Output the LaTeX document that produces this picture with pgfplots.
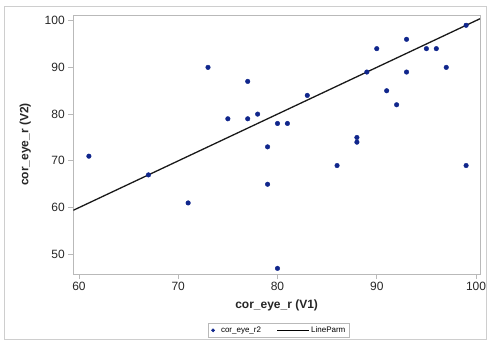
\documentclass[border=0pt]{standalone}
\usepackage{fontspec}
\setmainfont{Liberation Sans}
\usepackage{pgfplots}
\pgfplotsset{compat=1.18}
\definecolor{mk}{RGB}{16,38,140}
\definecolor{ax}{RGB}{185,185,185}
\begin{document}
\begin{tikzpicture}[x=1pt,y=1pt]
\useasboundingbox (-73.3,-67) rectangle (414.7,274);
\draw[ax!70,line width=0.6pt] (-69.3,-65) rectangle (412.7,268);
\begin{axis}[
  at={(0,0)}, anchor=south west,
  scale only axis, width=406.7pt, height=259pt,
  xmin=59.43, xmax=100.4, ymin=45.8, ymax=101.2,
  xtick={60,70,...,100}, ytick={50,60,...,100},
  axis line style={ax, line width=0.8pt},
  tick style={ax, line width=0.8pt},
  tick align=outside, major tick length=5pt,
  xtick pos=bottom, ytick pos=left,
  /pgf/number format/assume math mode=true,
  ticklabel style={font=\fontsize{12}{13}\selectfont, text=black!85},
  xlabel={\textbf{cor\_eye\_r (V1)}},
  ylabel={\textbf{cor\_eye\_r (V2)}},
  label style={font=\fontsize{12}{13}\selectfont, text=black!85},
  xlabel style={at={(axis description cs:0.5,-0.12)}, anchor=center},
  ylabel style={at={(axis description cs:-0.118,0.5)}, anchor=center},
  legend style={at={(axis description cs:0.505,-0.189)}, anchor=north,
    legend columns=2, draw=ax, line width=0.5pt, font=\fontsize{8}{9}\selectfont,
    inner xsep=2pt, inner ysep=1.5pt, /tikz/every even column/.append style={column sep=14pt}},
]
\addplot[only marks, mark=*, mark size=2.3pt, color=mk,
  legend image code/.code={\fill[mk] (0.1cm,0) circle (1.6pt); \path (0,0) (0.3cm,0);}] coordinates {
(61,71) (67,67) (71,61) (73,90) (75,79) (77,87) (77,79) (78,80) (79,73) (79,65)
(80,78) (80,47) (81,78) (83,84) (86,69) (88,75) (88,74) (89,89) (90,94) (91,85)
(92,82) (93,96) (93,89) (95,94) (96,94) (97,90) (99,99) (99,69)
};
\addlegendentry{cor\_eye\_r2}
\addplot[black!90, line width=1.3pt,
  legend image code/.code={\draw[black,line width=0.8pt] (0,0) -- (1.1cm,0);}] coordinates {(59.43,59.43) (100.4,100.4)};
\addlegendentry{LineParm}
\end{axis}
\end{tikzpicture}
\end{document}
